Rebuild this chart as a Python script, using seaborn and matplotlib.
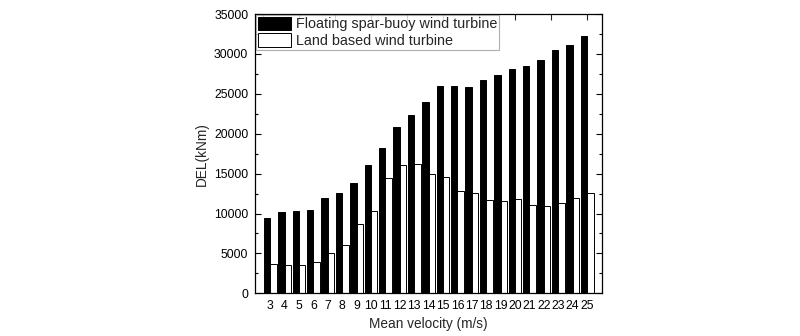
import matplotlib
matplotlib.use("Agg")
import matplotlib.pyplot as plt
from matplotlib.ticker import MultipleLocator, FixedLocator
import seaborn as sns
import pandas as pd

velocity = list(range(3, 26))
floating_del = [9450, 10150, 10300, 10480, 11900, 12600, 13780, 16040, 18200,
                20880, 22340, 23930, 25980, 25980, 25850, 26730, 27320, 28110,
                28450, 29240, 30490, 31080, 32280]
land_del = [3630, 3550, 3510, 3960, 5010, 6020, 8650, 10310, 14410, 16040,
            16170, 14910, 14570, 12780, 12570, 11650, 11570, 11850, 11100,
            10940, 11320, 11940, 12610]
series_names = ["Floating spar-buoy wind turbine", "Land based wind turbine"]

df = pd.DataFrame({
    "velocity": velocity * 2,
    "DEL": floating_del + land_del,
    "series": [series_names[0]] * len(velocity) + [series_names[1]] * len(velocity),
})

sns.set_style("white")
plt.rcParams["font.family"] = ["Liberation Sans", "DejaVu Sans"]

fig = plt.figure(figsize=(8, 3.36), dpi=100)
ax = fig.add_axes([0.319, 0.127, 0.4335, 0.831])

sns.barplot(data=df, x="velocity", y="DEL", hue="series", order=velocity,
            hue_order=series_names, palette=["black", "white"], width=0.9,
            edgecolor="black", linewidth=0.7, saturation=1, ax=ax, errorbar=None)

ax.set_xlim(-1.04, 23.04)
ax.set_ylim(0, 35000)
ax.yaxis.set_major_locator(MultipleLocator(5000))
ax.yaxis.set_minor_locator(MultipleLocator(2500))
ax.tick_params(axis="y", which="both", direction="in", left=True, right=True,
               labelsize=8.8, colors="black", pad=5)
ax.tick_params(axis="y", which="major", length=4, width=0.8)
ax.tick_params(axis="y", which="minor", length=2.5, width=0.8)
ax.tick_params(axis="x", which="major", bottom=False, top=False, labelsize=8.8,
               pad=1.2, colors="black")

# top ticks every 2.5 m/s
top_pos = [v - 3 for v in [2.5 + 2.5 * k for k in range(10)]]
sec = ax.secondary_xaxis("top")
sec.xaxis.set_major_locator(FixedLocator(top_pos))
sec.tick_params(axis="x", direction="in", length=4, width=0.8, labeltop=False)

for s in ax.spines.values():
    s.set_color("black")
    s.set_linewidth(0.9)
sec.spines["top"].set_visible(False)

ax.set_xlabel("Mean velocity (m/s)", fontsize=9.8, labelpad=3.5)
ax.set_ylabel("DEL(kNm)", fontsize=9.8, labelpad=3.5)

leg = ax.legend(loc="upper left", fontsize=10.4, frameon=True, fancybox=False,
                edgecolor="#999999", borderaxespad=0.05, handlelength=2.29,
                handleheight=1.1, handletextpad=0.35, borderpad=0.12,
                labelspacing=0.14)
leg.get_frame().set_linewidth(0.8)

fig.savefig("out.png", dpi=100)
